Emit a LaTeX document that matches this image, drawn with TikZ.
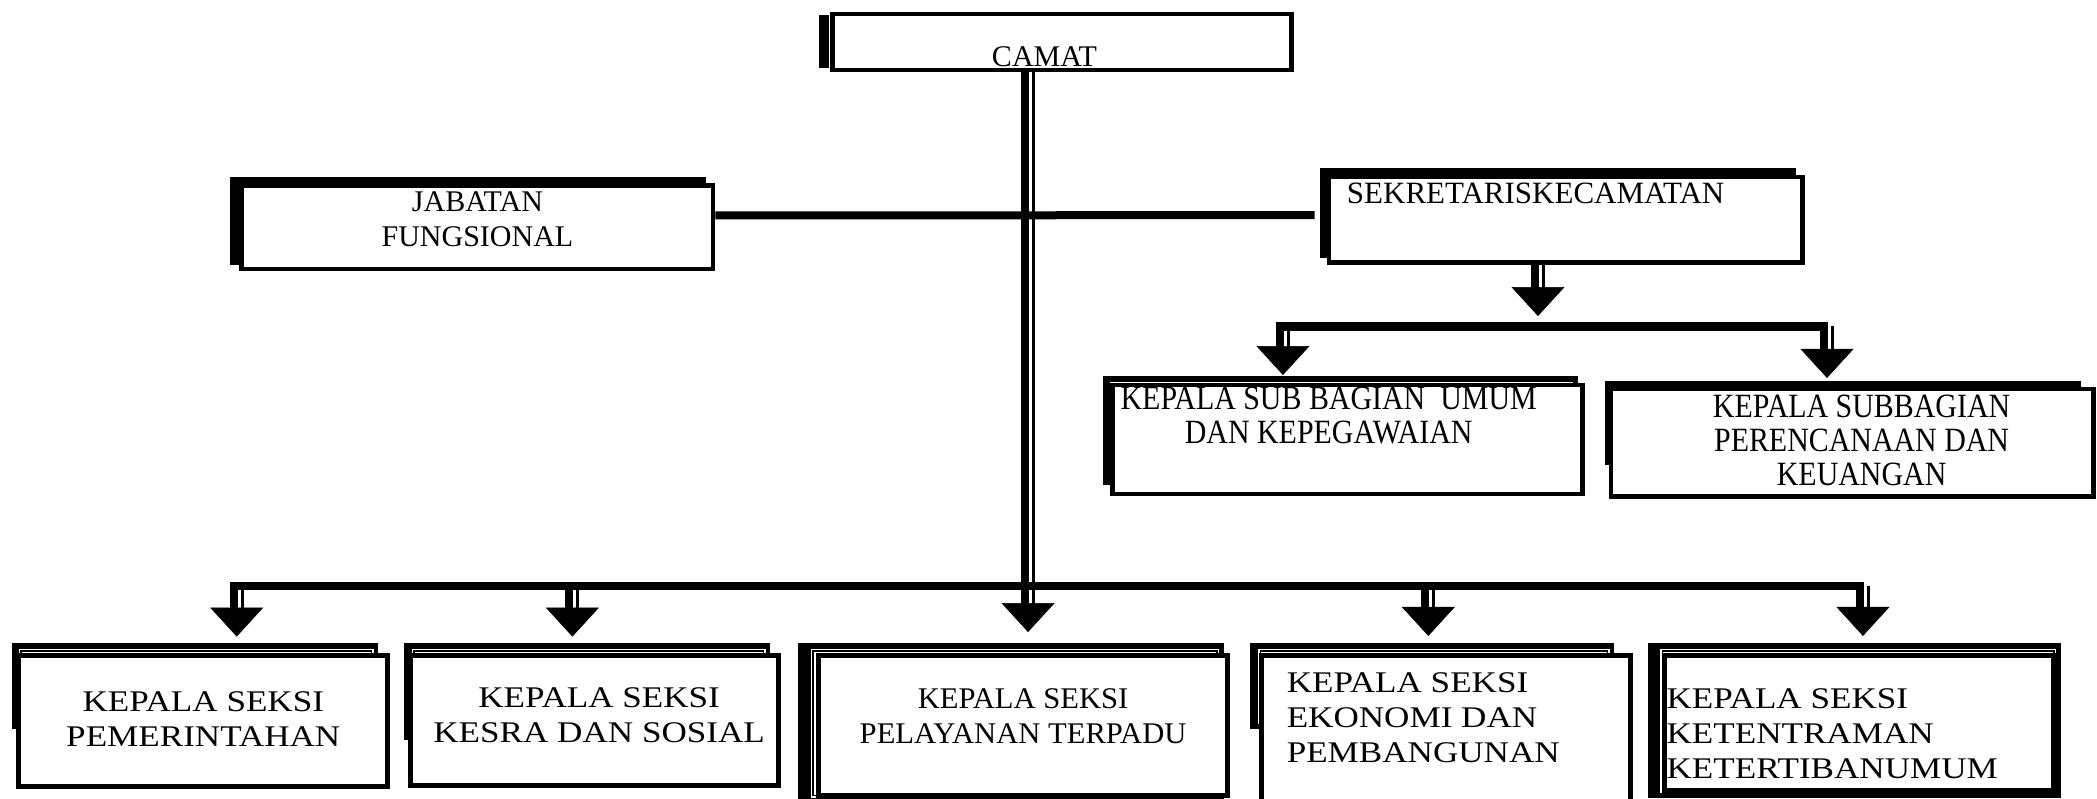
\documentclass[tikz,border=0pt]{standalone}
\usepackage{fontspec}
\usetikzlibrary{arrows.meta,fit,calc}
\newfontfamily\topfont{Liberation Serif}
\newfontfamily\subfont[FakeStretch=0.88]{Liberation Serif}
\newfontfamily\botfont[FakeStretch=1.17]{Liberation Serif}
\newfontfamily\botnarrow[FakeStretch=1.02]{Liberation Serif}
\newcommand{\backbox}[5]{%
  \fill[black] (#1,#2) rectangle (#3,#4);
  \fill[white] ({#1+#5},{#2+4.5}) rectangle ({#3-3.5},{#4-3.5});
  \draw[line width=1.6pt] ({#1+#5+1.6},{#2+6.1}) rectangle ({#3-5.1},{#4-5.1});
}
\tikzset{
  mainbox/.style={draw, fill=white, line width=4.5pt, inner sep=0pt},
  lowbox/.style={draw, fill=white, line width=5pt, inner sep=0pt},
  toptext/.style={inner sep=0pt, font=\topfont\fontsize{30}{34.8}\selectfont, align=center},
  subtext/.style={inner sep=0pt, font=\subfont\fontsize{34}{34}\selectfont, align=center},
  bottext/.style={inner sep=0pt, font=\botfont\fontsize{30}{34.8}\selectfont},
  bar/.style={line width=8pt},
  shaft/.style={line width=0.5pt, -{Triangle[width=53pt,length=29pt]},
     preaction={draw, arrows=-, line width=8pt, transform canvas={xshift=-3pt}, shorten >=27pt},
     preaction={draw, arrows=-, line width=3pt, transform canvas={xshift=5.5pt}, shorten >=27pt}},
}
\begin{document}
\begin{tikzpicture}[x=1.3374pt, y=-1.3374pt]
\path[fill=white, use as bounding box] (0,0) rectangle (1568,597.4);

% shadows of the upper boxes
\fill[black] (612.5,11.5) rectangle (620,50.5);
\fill[black] (172,132) rectangle (528,198);
\fill[black] (987,125.6) rectangle (1343,193);
\backbox{825}{281}{1180}{363}{5}
\backbox{1200}{285}{1556}{348}{5}
% shadows of the lower boxes
\backbox{9}{480.5}{283}{545}{5}
\backbox{302}{480.5}{576}{553}{6}
\backbox{597}{480.5}{915}{600}{9.5}
\backbox{935}{480.5}{1207}{545}{6}
\backbox{1232}{480.5}{1541.1}{596.8}{9.5}

% boxes
\node[mainbox, fit={(622.5,10.5) (965.5,52.5)}] (camat) {};
\node[mainbox, fit={(180.7,138.7) (533.3,201.3)}] (jab) {};
\node[mainbox, fit={(993.7,132.5) (1347.9,196.3)}] (sek) {};
\node[mainbox, fit={(831.7,287.7) (1183.3,369.3)}] (umum) {};
\node[mainbox, fit={(1204.7,290.7) (1565.3,371.3)}] (renc) {};
\node[lowbox, fit={(13.9,490.4) (290.1,588.1)}] (s1) {};
\node[lowbox, fit={(306.9,490.4) (582.1,587.1)}] (s2) {};
\node[lowbox, fit={(611.9,490.4) (918.1,594.5)}] (s3) {};
\node[lowbox, fit={(942.9,490.4) (1219.1,602)}] (s4) {};
\node[lowbox, fit={(1244.9,490.4) (1535.6,591.4)}] (s5) {};

% texts
\node[toptext, anchor=north] (camat-t) at (781,34.5) {CAMAT};
\node[toptext, anchor=north] (jab-t) at (357,143) {JABATAN\\FUNGSIONAL};
\node[toptext, anchor=north west, align=left, font=\topfont\fontsize{31}{34.8}\selectfont] (sek-t) at (1007,136.5) {SEKRETARISKECAMATAN};
\node[subtext, anchor=north] (umum-t) at (993.5,289.5) {KEPALA SUB BAGIAN\ \ UMUM\\DAN KEPEGAWAIAN};
\node[subtext, anchor=north] (renc-t) at (1392,295) {KEPALA SUBBAGIAN\\PERENCANAAN DAN\\KEUANGAN};
\node[bottext, anchor=north, align=center] (s1-t) at (152,517) {KEPALA SEKSI\\PEMERINTAHAN};
\node[bottext, anchor=north, align=center] (s2-t) at (448,514) {KEPALA SEKSI\\KESRA DAN SOSIAL};
\node[bottext, anchor=north, align=center, font=\botnarrow\fontsize{30}{34.8}\selectfont] (s3-t) at (765,515) {KEPALA SEKSI\\PELAYANAN TERPADU};
\node[bottext, anchor=north west, align=left] (s4-t) at (962,503) {KEPALA SEKSI\\EKONOMI DAN\\PEMBANGUNAN};
\node[bottext, anchor=north west, align=left] (s5-t) at (1246,515) {KEPALA SEKSI\\KETENTRAMAN\\KETERTIBANUMUM};

% connector end points
\coordinate (tk) at (768.7,472.6);
\coordinate (sk) at (1150,236.3);
\coordinate (sbl) at (959.3,243.8);
\coordinate (sbr) at (1366.1,243.8);
\coordinate (ul) at (959.3,280.4);
\coordinate (ur) at (1366.1,282.6);
\coordinate (b1) at (177,438.2);
\coordinate (b2) at (428,438.2);
\coordinate (b4) at (1068,438.2);
\coordinate (b5) at (1393,438.2);
\coordinate (e1) at (177,476);
\coordinate (e2) at (428,476);
\coordinate (e4) at (1068,475.5);
\coordinate (e5) at (1393,475.5);

% arrows
\draw[shaft] (camat.south -| tk) -- (tk);
\draw[shaft] (sek.south -| sk) -- (sk);
\draw[shaft] (sbl) -- (ul);
\draw[shaft] (sbr) -- (ur);
\draw[shaft] (b1) -- (e1);
\draw[shaft] (b2) -- (e2);
\draw[shaft] (b4) -- (e4);
\draw[shaft] (b5) -- (e5);

% bars
\draw[bar] ([yshift=12pt]jab.east) -- ([xshift=-12pt,yshift=4.7pt]sek.west);
\draw[bar, line width=9pt] ([xshift=-7pt]sbl) -- ([xshift=1pt]sbr);
\draw[bar] ([xshift=-7pt]b1) -- ([xshift=1pt]b5);
\end{tikzpicture}
\end{document}
